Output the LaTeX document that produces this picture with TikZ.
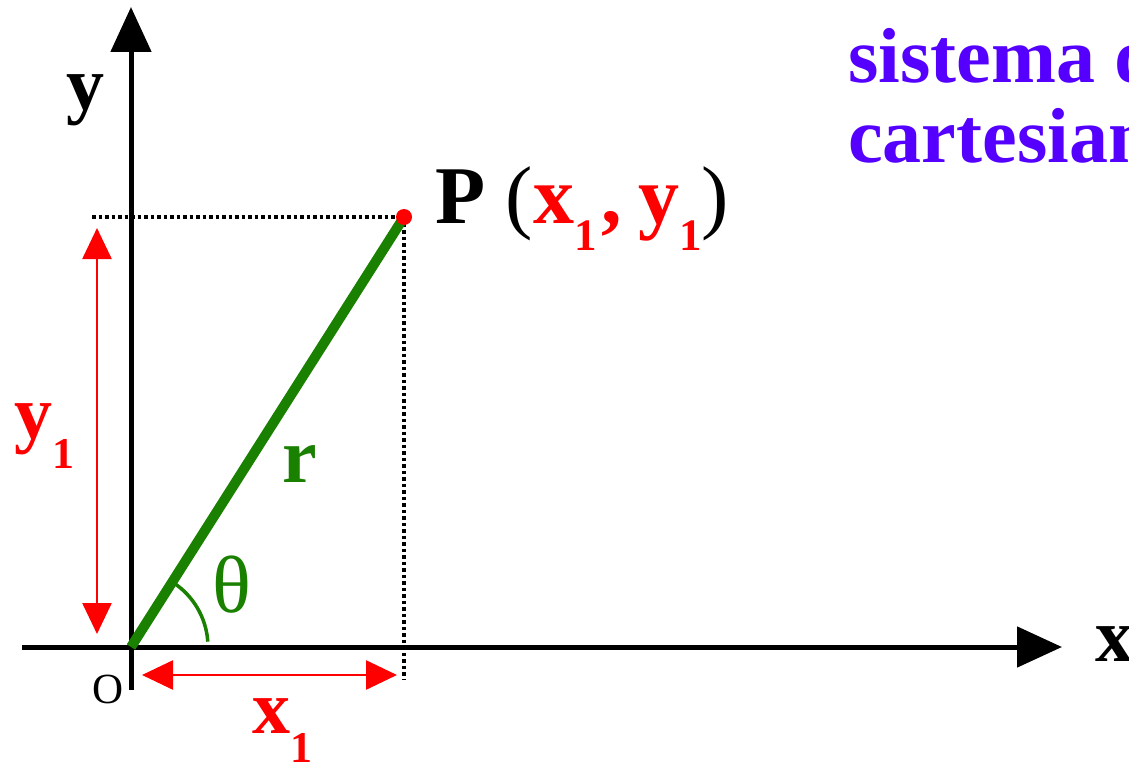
\documentclass[tikz,border=0pt]{standalone}
\usepackage{fontspec}
\setmainfont{Liberation Serif}
\usetikzlibrary{arrows.meta,calc}
\definecolor{myred}{RGB}{255,0,0}
\definecolor{mygreen}{RGB}{26,128,0}
\definecolor{myblue}{RGB}{85,0,255}
\newcommand{\fs}[1]{\fontsize{#1}{#1}\selectfont}
\newcommand{\sub}[1]{\raisebox{-27pt}{\fs{45}\textbf{#1}}}
\begin{document}
\begin{tikzpicture}[x=1pt,y=-1pt,
  axis/.style={line width=5pt,-{Triangle[length=45pt,width=40pt]}},
  dimline/.style={myred,line width=2.5pt,{Triangle[length=31pt,width=29pt]}-{Triangle[length=31pt,width=29pt]}},
  dotline/.style={line width=3.5pt,dash pattern=on 3.5pt off 3pt},
  vec/.style={mygreen,line width=10pt},
  lbl/.style={inner sep=0pt,anchor=base west},
  title/.style={lbl,text=myblue,font=\fs{78}\bfseries}]
\useasboundingbox (0,0) rectangle (1129,762);
\clip (0,0) rectangle (1129,762);
\coordinate (O) at (131,647);
\coordinate (P) at (404,217);
\coordinate (xs) at (22,647);
\coordinate (xe) at (1062,647);
\coordinate (ys) at (131,690);
\coordinate (ye) at (131,7);
\coordinate (hd) at (92,217);
\coordinate (vd) at (404,680);
\coordinate (ya) at (97,228);
\coordinate (yb) at (97,634);
\coordinate (xa) at (142,675);
\coordinate (xb) at (397,675);
% dotted projections
\draw[dotline] (hd) -- (P);
\draw[dotline] (P) -- (vd);
% axes
\draw[axis] (xs) -- (xe);
\draw[axis] (ys) -- (ye);
% vector
\draw[vec] (O) -- ($(O)!0.99!(P)$);
\fill[myred] (P) circle (8);
% angle arc
\draw[mygreen,line width=3.5pt] (O) ++(-4:77) arc[start angle=-4,end angle=-57,radius=77];
% dimension arrows
\draw[dimline] (ya) -- (yb);
\draw[dimline] (xa) -- (xb);
% labels
\node[lbl,font=\fs{76}\bfseries] (ylab) at (66,110) {y};
\node[lbl,font=\fs{76}\bfseries] (xlab) at (1095,661) {x};
\node[lbl,font=\fs{43}] (olab) at (92,703) {O};
\node[lbl,font=\fs{78}\bfseries,text=mygreen] (rlab) at (282,482) {r};
\node[lbl,font=\fs{81},text=mygreen] (thlab) at (212,612) {θ};
\node[lbl,font=\fs{76}\bfseries,text=myred] (y1lab) at (14,438) {y\raisebox{-30pt}{\fs{44}\textbf{1}}};
\node[lbl,font=\fs{76}\bfseries,text=myred] (x1lab) at (252,733) {x\raisebox{-29pt}{\fs{44}\textbf{1}}};
\node[lbl,font=\fs{82}] (plab) at (435,223) {\textbf{P} (\textcolor{myred}{\textbf{x}\sub{1}\kern5pt\textbf{,}\kern16pt\textbf{y}\sub{1}})};
\node[title] (t1) at (848,83) {sistema de coordenadas};
\node[title] (t2) at (848,163) {cartesianas};
\end{tikzpicture}
\end{document}
